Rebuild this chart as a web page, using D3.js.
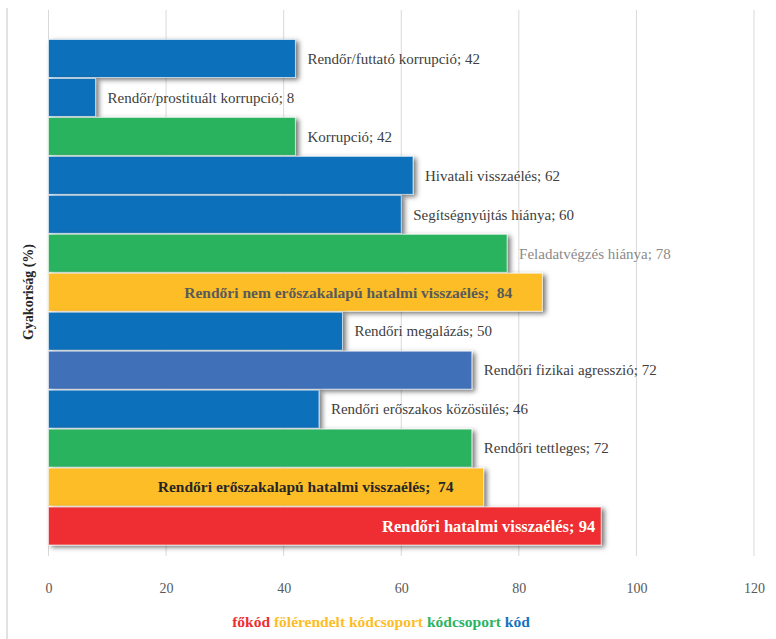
<!DOCTYPE html>
<html><head><meta charset="utf-8">
<script src="https://cdn.jsdelivr.net/npm/d3@7"></script>
<style>body{margin:0;background:#fff}svg{display:block}</style>
</head><body>
<svg id="c" width="776" height="639"></svg>
<script>
const categories = [
  "Rendőr/futtató korrupció",
  "Rendőr/prostituált korrupció",
  "Korrupció",
  "Hivatali visszaélés",
  "Segítségnyújtás hiánya",
  "Feladatvégzés hiánya",
  "Rendőri nem erőszakalapú hatalmi visszaélés",
  "Rendőri megalázás",
  "Rendőri fizikai agresszió",
  "Rendőri erőszakos közösülés",
  "Rendőri tettleges",
  "Rendőri erőszakalapú hatalmi visszaélés",
  "Rendőri hatalmi visszaélés"
];
const values = [42, 8, 42, 62, 60, 78, 84, 50, 72, 46, 72, 74, 94];
const groups = ["kod","kod","kodcsoport","kod","kod","kodcsoport","folerendelt","kod","kod2","kod","kodcsoport","folerendelt","fokod"];
const xTicks = [0, 20, 40, 60, 80, 100, 120];
const axisTitle = "Gyakoriság (%)";
const legendItems = [
  {text: "főkód", group: "fokod"},
  {text: "fölérendelt kódcsoport", group: "folerendelt"},
  {text: "kódcsoport", group: "kodcsoport"},
  {text: "kód", group: "kod"}
];

const palette = {kod:"#0A6FBA", kod2:"#3F70B8", kodcsoport:"#2BB35F", folerendelt:"#FDBD26", fokod:"#EE2E30"};
const legendPalette = {kod:"#1273BF", kodcsoport:"#2BB35F", folerendelt:"#FDBD26", fokod:"#EE2E30"};
const font = "'Liberation Serif', serif";

const svg = d3.select("#c");
const x = d3.scaleLinear().domain([0,120]).range([48.5, 754]);
const y = d3.scaleBand().domain(categories).range([39, 545.5]).padding(0);

const defs = svg.append("defs");
const f = defs.append("filter").attr("id","sh").attr("x","-10%").attr("y","-40%").attr("width","130%").attr("height","180%");
f.append("feDropShadow").attr("dx",3).attr("dy",2).attr("stdDeviation",2.8).attr("flood-color","#000").attr("flood-opacity",0.55);

// frame line on left
svg.append("line").attr("x1",7).attr("x2",7).attr("y1",8).attr("y2",639).attr("stroke","#d9d9d9").attr("stroke-width",1.5);

// gridlines
svg.append("g").selectAll("line").data(xTicks).join("line")
  .attr("x1",d=>x(d)).attr("x2",d=>x(d)).attr("y1",10).attr("y2",556)
  .attr("stroke","#d9d9d9").attr("stroke-width",1);

// tick labels via axis
const ax = svg.append("g").attr("transform","translate(0,583)")
  .call(d3.axisBottom(x).tickValues(xTicks).tickSize(0).tickPadding(0).tickFormat(d3.format("d")));
ax.select(".domain").remove();
ax.selectAll("text").attr("font-family",font).attr("font-size",14).attr("fill","#595959").attr("dy","0.71em");

// bars
svg.append("g").selectAll("rect").data(categories).join("rect")
  .attr("x",x(0)).attr("y",d=>y(d)+0.5)
  .attr("width",(d,i)=>x(values[i])-x(0)).attr("height",y.bandwidth()-1)
  .attr("fill",(d,i)=>palette[groups[i]])
  .attr("stroke","#ffffff").attr("stroke-opacity",0.6)
  .attr("stroke-width",1)
  .attr("filter","url(#sh)");

// labels
const insideGroups = {folerendelt:true, fokod:true};
const labelColor = (d,i)=>{
  if (groups[i]==="fokod") return "#ffffff";
  if (groups[i]==="folerendelt") return i===6 ? "#5a5a5a" : "#262626";
  if (i===5) return "#8a8a8a";
  return "#404040";
};
svg.append("g").selectAll("text").data(categories).join("text")
  .style("white-space","pre")
  .attr("font-family",font)
  .attr("font-size",(d,i)=>groups[i]==="fokod"?16.5:(insideGroups[groups[i]]?15.5:15))
  .attr("font-weight",(d,i)=>insideGroups[groups[i]]?"bold":"normal")
  .attr("fill",labelColor)
  .attr("text-anchor",(d,i)=>insideGroups[groups[i]]?"end":"start")
  .attr("x",(d,i)=>{
    const e = x(values[i]);
    if (groups[i]==="fokod") return e-6;
    if (groups[i]==="folerendelt") return e-30;
    return e+12;
  })
  .attr("y",d=>y(d)+y.bandwidth()/2)
  .attr("dy","0.35em")
  .text((d,i)=> d + (groups[i]==="folerendelt" ? ";  " : "; ") + values[i]);

// axis title
svg.append("text").attr("transform","translate(33,292) rotate(-90)")
  .attr("text-anchor","middle").attr("font-family",font).attr("font-size",14)
  .attr("font-weight","bold").attr("fill","#262626").text(axisTitle);

// legend
const lg = svg.append("text").attr("x",381).attr("y",627).attr("text-anchor","middle")
  .attr("font-family",font).attr("font-size",15.5).attr("font-weight","bold");
legendItems.forEach((it,k)=>{
  lg.append("tspan").attr("fill",legendPalette[it.group]).text((k?" ":"")+it.text);
});
</script>
</body></html>
